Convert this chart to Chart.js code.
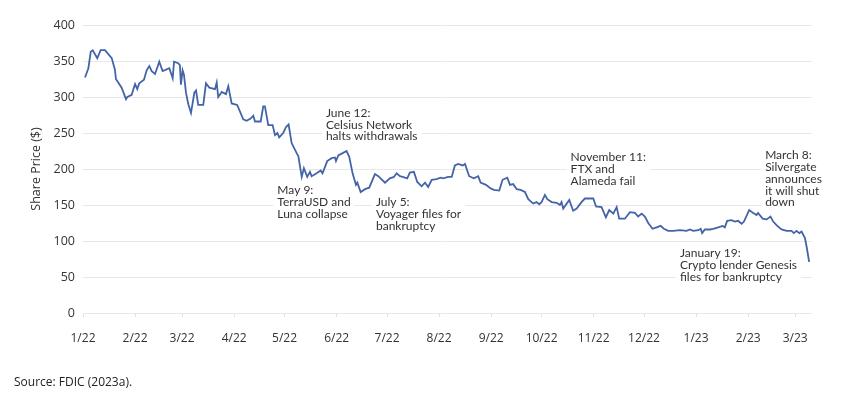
<!DOCTYPE html>
<html>
<head>
<meta charset="utf-8">
<script src="https://cdn.jsdelivr.net/npm/chart.js@4/dist/chart.umd.min.js"></script>
<style>
  html, body { margin: 0; padding: 0; background: #fff; }
  #wrap { position: relative; width: 850px; height: 393px; }
  #source { position: absolute; left: 14px; top: 373px; font: 12px "Open Sans", sans-serif; color: #222; }
</style>
</head>
<body>
<div id="wrap">
  <canvas id="priceChart" width="850" height="393"></canvas>
  <div id="source">Source: FDIC (2023a).</div>
</div>
<script>
// days since 1 Jan 2022
var days = [1.2,3.2,4.6,5.8,8.5,10.5,13.1,17.1,19,19.6,
  23,25.6,26.4,29,29.9,31,32.3,33.5,36.3,37.9,
  39.5,40.9,42.9,45.4,47.4,51.4,53.4,54.2,56.7,57.7,
  58.3,59.3,60.1,61.3,62.7,64.3,66.3,67.3,68.6,71.6,
  73.2,75.2,78.6,79.6,80.5,82.6,85.1,86.5,88.5,91.8,
  95.4,97.4,99.8,101.4,102.4,105.8,107.3,108.3,110.3,112.9,
  114.3,115.7,116.8,119.2,120.8,122.4,124.2,127.2,128.2,130.2,
  131.5,133.5,135.1,136.1,139.1,141.5,142.6,145.4,148,150,
  150.6,152,154.6,156.9,158.5,160.5,162.5,163.3,165.3,167.9,
  170.4,173.8,175.8,179.8,182.7,185.1,186.7,188.7,190.3,193,
  194.6,197,199,201.6,203.6,205.5,207.6,210.5,212.9,214.5,
  217.4,219.5,221.4,223.4,226,227.4,229.9,232.7,235.3,236.7,
  239.9,242.7,244.6,247.8,249.8,252.6,254.2,256.1,258.2,260.5,
  263.1,265.1,268,270,271.6,273,275,276.4,279,282,
  283.9,284.9,285.9,289.5,291.8,293.9,296.8,298.8,301.8,303.8,
  305.4,308.7,311.3,313.3,315.7,317.7,319.2,322.6,325.6,328.6,
  330.5,332.6,334.5,336.5,339.1,341.5,343.9,345.8,348.4,351.4,
  355.4,359.3,361.3,363.3,366.3,367.7,368.6,370.2,373.2,375.2,
  378.2,380.8,382.1,383.5,386.1,388.1,390,392.1,393.5,396.6,
  399,401,401.9,404.6,407,409.3,410.9,413.3,415.9,418.9,
  421.8,423.2,424.8,426.4,427.8,429.8,430.8,432.3];

var prices = [327,340,363,365,354,365,365,354,338,325,
  313,297,300,303,310,318,311,319,324,337,
  343,336,332,349,336,340,326,349,347,344,
  317,337,331,306,290,278,306,309,289,289,
  319,313,311,320,300,307,304,315,291,289,
  269,267,270,274,266,266,287,287,261,261,
  247,250,244,250,258,262,236,222,218,189,
  201,189,196,190,194,198,194,211,215,216,
  211,219,222,225,217,194,178,181,168,172,
  174,193,190,181,187,189,194,190,189,187,
  195,196,182,176,181,175,185,186,188,187,
  189,189,205,207,205,207,190,187,190,181,
  178,173,171,170,185,188,178,179,172,171,
  168,158,152,154,151,154,164,158,154,153,
  150,154,145,157,142,145,154,159,159,159,
  148,147,133,143,138,147,131,131,140,139,
  134,138,134,125,117,119,121,117,114,114,
  115,114,116,114,115,117,111,116,116,117,
  119,121,119,128,129,127,128,124,127,143,
  139,136,139,131,130,134,127,121,116,114,
  114,111,114,111,113,104,92,71];

var tickLabels = ['1/22','2/22','3/22','4/22','5/22','6/22','7/22','8/22',
  '9/22','10/22','11/22','12/22','1/23','2/23','3/23'];

// event notes: text lines, placed by day / price of the first line
var notes = [
  { day: 115.7, price: 170, lines: ['May 9:', 'TerraUSD and', 'Luna collapse'] },
  { day: 144.6, price: 278, lines: ['June 12:', 'Celsius Network', 'halts withdrawals'] },
  { day: 174.4, price: 154, lines: ['July 5:', 'Voyager files for', 'bankruptcy'] },
  { day: 290.3, price: 216, lines: ['November 11:', 'FTX and', 'Alameda fail'] },
  { day: 355.4, price: 83, lines: ['January 19:', 'Crypto lender Genesis', 'files for bankruptcy'] },
  { day: 406.1, price: 219, lines: ['March 8:', 'Silvergate', 'announces', 'it will shut', 'down'] }
];

var DAY0 = Date.UTC(2022, 0, 1);
function tickDay(label) {
  var p = label.split('/');
  return (Date.UTC(2000 + +p[1], +p[0] - 1, 1) - DAY0) / 86400000;
}
var tickMap = {};
tickLabels.forEach(l => tickMap[tickDay(l)] = l);

var notesPlugin = {
  id: 'notes',
  beforeDatasetsDraw(chart) {
    var ctx = chart.ctx, xs = chart.scales.x, ys = chart.scales.y;
    var lh = 11.8;
    ctx.save();
    ctx.font = '12px "Lato", sans-serif';
    ctx.textBaseline = 'middle';
    ctx.textAlign = 'left';
    notes.forEach(n => {
      var x = xs.getPixelForValue(n.day), y = ys.getPixelForValue(n.price);
      var w = Math.max(...n.lines.map(t => ctx.measureText(t).width));
      ctx.fillStyle = '#fff';
      ctx.fillRect(x - 4, y - lh / 2 - 1, w + 8, lh * n.lines.length + 2);
      ctx.fillStyle = '#333';
      n.lines.forEach((t, i) => ctx.fillText(t, x, y + i * lh));
    });
    ctx.restore();
  }
};

var CHART = new Chart(document.getElementById('priceChart'), {
  type: 'line',
  data: {
    datasets: [{
      data: days.map((d, i) => ({ x: d, y: prices[i] })),
      borderColor: '#4464a8',
      borderWidth: 1.8,
      pointRadius: 0,
      tension: 0
    }]
  },
  options: {
    responsive: false,
    animation: false,
    layout: { padding: { left: 0, right: 38, top: 25, bottom: 0 } },
    plugins: { legend: { display: false }, tooltip: { enabled: false } },
    scales: {
      x: {
        type: 'linear',
        min: 0,
        max: 434,
        afterFit: s => { s.height = 80; },
        afterBuildTicks: s => { s.ticks = tickLabels.map(l => ({ value: tickDay(l) })); },
        grid: { drawOnChartArea: false, tickLength: 4, color: '#e2e2e2' },
        border: { display: false },
        ticks: {
          autoSkip: false,
          maxRotation: 0,
          padding: 14,
          color: '#333',
          font: { family: '"Open Sans", sans-serif', size: 12 },
          callback: v => tickMap[v]
        }
      },
      y: {
        min: 0,
        max: 400,
        afterFit: s => { s.width = 83; },
        grid: { color: '#e8e8e8', drawTicks: false },
        border: { display: false },
        ticks: {
          stepSize: 50,
          padding: 8,
          color: '#333',
          font: { family: '"Open Sans", sans-serif', size: 12.5 }
        },
        title: {
          display: true,
          text: 'Share Price ($)',
          color: '#333',
          padding: { top: 29, bottom: 0 },
          font: { family: '"Open Sans", sans-serif', size: 12.5 }
        }
      }
    }
  },
  plugins: [notesPlugin]
});
</script>
</body>
</html>
